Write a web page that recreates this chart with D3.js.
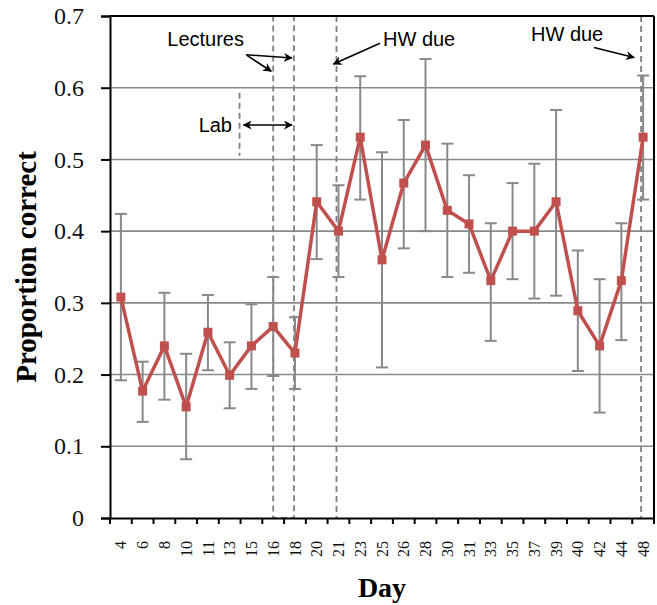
<!DOCTYPE html>
<html>
<head>
<meta charset="utf-8">
<script src="https://cdn.jsdelivr.net/npm/d3@7"></script>
<style>
  body { margin: 0; background: #fff; }
  svg { display: block; }
</style>
</head>
<body>
<script>
var W = 657, H = 605;
var margin = { top: 16, right: 3, bottom: 87, left: 110 };

// dati
var days = ['4', '6', '8', '10', '11', '13', '15', '16', '18', '20', '21', '23', '25',
  '26', '28', '30', '31', '33', '35', '37', '39', '40', '42', '44', '48'];
var means = [0.308, 0.177, 0.240, 0.155, 0.259, 0.199, 0.240, 0.267, 0.230, 0.441, 0.400, 0.531, 0.360,
  0.467, 0.520, 0.429, 0.410, 0.331, 0.400, 0.400, 0.441, 0.289, 0.240, 0.331, 0.531];
var upper = [0.424, 0.218, 0.314, 0.229, 0.311, 0.245, 0.298, 0.336, 0.280, 0.520, 0.464, 0.616, 0.510,
  0.555, 0.640, 0.522, 0.478, 0.411, 0.467, 0.494, 0.569, 0.373, 0.333, 0.411, 0.617];
var lower = [0.192, 0.134, 0.165, 0.082, 0.206, 0.153, 0.180, 0.198, 0.180, 0.361, 0.336, 0.444, 0.210,
  0.376, 0.400, 0.336, 0.342, 0.247, 0.333, 0.306, 0.310, 0.205, 0.147, 0.248, 0.444];
var yTicks = [0, 0.1, 0.2, 0.3, 0.4, 0.5, 0.6, 0.7];

var red = '#C0504D';
var grey = '#898989';

var x = d3.scaleBand().domain(days).range([margin.left, W - margin.right]);
var y = d3.scaleLinear().domain([0, 0.7]).range([H - margin.bottom, margin.top]);
var cx = function (d) { return x(d) + x.bandwidth() / 2; };

var svg = d3.select('body').append('svg')
  .attr('width', W)
  .attr('height', H);

var defs = svg.append('defs');
defs.append('marker')
  .attr('id', 'arrow')
  .attr('viewBox', '0 0 10 10')
  .attr('refX', 9).attr('refY', 5)
  .attr('markerWidth', 9).attr('markerHeight', 9)
  .attr('markerUnits', 'userSpaceOnUse')
  .attr('orient', 'auto-start-reverse')
  .append('path')
  .attr('d', 'M0,0 L10,5 L0,10 L3,5 Z')
  .attr('fill', '#000');

// griglia orizzontale
svg.append('g')
  .selectAll('line')
  .data(yTicks.filter(function (t) { return t > 0 && t < 0.7; }))
  .enter().append('line')
  .attr('x1', margin.left).attr('x2', W - margin.right)
  .attr('y1', function (d) { return y(d); }).attr('y2', function (d) { return y(d); })
  .style('stroke', grey).style('stroke-width', 1.6);

// linee tratteggiate delle annotazioni
var dash = svg.append('g')
  .style('stroke', '#7f7f7f').style('stroke-width', 1.8)
  .style('stroke-dasharray', '6,4').style('fill', 'none');

dash.append('rect')
  .attr('x', cx('16')).attr('y', y(0.7))
  .attr('width', cx('18') - cx('16') - 1)
  .attr('height', y(0) - y(0.7));
dash.append('line')
  .attr('x1', cx('21') - 2).attr('x2', cx('21') - 2)
  .attr('y1', y(0.7)).attr('y2', y(0));
dash.append('line')
  .attr('x1', cx('48') - 2).attr('x2', cx('48') - 2)
  .attr('y1', y(0.7)).attr('y2', y(0));
dash.append('line')
  .attr('x1', x('15') - 1).attr('x2', x('15') - 1)
  .attr('y1', y(0.593)).attr('y2', y(0.505));

// barre d'errore
var err = svg.append('g')
  .style('stroke', grey).style('stroke-width', 2);
days.forEach(function (d, i) {
  err.append('line')
    .attr('x1', cx(d)).attr('x2', cx(d))
    .attr('y1', y(upper[i])).attr('y2', y(lower[i]));
  [upper[i], lower[i]].forEach(function (v) {
    err.append('line')
      .attr('x1', cx(d) - 6).attr('x2', cx(d) + 6)
      .attr('y1', y(v)).attr('y2', y(v));
  });
});

// linea della media
var line = d3.line()
  .x(function (d, i) { return cx(days[i]); })
  .y(function (d) { return y(d); });

svg.append('path')
  .datum(means)
  .attr('d', line)
  .style('fill', 'none')
  .style('stroke', red)
  .style('stroke-width', 3.5)
  .style('stroke-linejoin', 'round');

svg.append('g')
  .selectAll('rect')
  .data(means)
  .enter().append('rect')
  .attr('x', function (d, i) { return cx(days[i]) - 4.5; })
  .attr('y', function (d) { return y(d) - 4.5; })
  .attr('width', 9).attr('height', 9)
  .style('fill', red);

// bordo del grafico
svg.append('line')
  .attr('x1', margin.left).attr('x2', W - margin.right)
  .attr('y1', y(0.7)).attr('y2', y(0.7))
  .style('stroke', '#000').style('stroke-width', 2);
svg.append('line')
  .attr('x1', W - margin.right).attr('x2', W - margin.right)
  .attr('y1', y(0.7)).attr('y2', y(0))
  .style('stroke', '#000').style('stroke-width', 2);

// asse y
var yAxis = svg.append('g')
  .attr('transform', 'translate(' + margin.left + ',0)')
  .call(d3.axisLeft(y).tickValues(yTicks).tickSize(9).tickPadding(17)
    .tickFormat(function (d) { return d === 0 ? '0' : d3.format('.1f')(d); }));
yAxis.select('.domain').style('stroke', '#000').style('stroke-width', 2);
yAxis.selectAll('.tick line').style('stroke', '#000').style('stroke-width', 2);
yAxis.selectAll('text')
  .style('font-family', '"Liberation Serif", serif')
  .style('font-size', '24px')
  .style('fill', '#111');

// asse x
var xAxis = svg.append('g')
  .attr('transform', 'translate(0,' + y(0) + ')')
  .call(d3.axisBottom(x).tickSize(0));
xAxis.select('.domain').style('stroke', '#000').style('stroke-width', 2);
xAxis.selectAll('text')
  .attr('transform', 'rotate(-90)')
  .attr('x', -23).attr('y', 0).attr('dy', '0.35em')
  .style('text-anchor', 'end')
  .style('font-family', '"Liberation Serif", serif')
  .style('font-size', '16px')
  .style('fill', '#111');

// tacche sui bordi delle categorie
svg.append('g')
  .selectAll('line')
  .data(days.concat(['end']))
  .enter().append('line')
  .attr('x1', function (d) { return d === 'end' ? W - margin.right : x(d); })
  .attr('x2', function (d) { return d === 'end' ? W - margin.right : x(d); })
  .attr('y1', y(0)).attr('y2', y(0) + 6)
  .style('stroke', '#000').style('stroke-width', 2);

// titoli degli assi
svg.append('text')
  .attr('x', (margin.left + W - margin.right) / 2)
  .attr('y', 597)
  .attr('text-anchor', 'middle')
  .style('font-family', '"Liberation Serif", serif')
  .style('font-weight', 'bold')
  .style('font-size', '28px')
  .text('Day');

svg.append('text')
  .attr('transform', 'translate(36,' + 267 + ') rotate(-90)')
  .attr('text-anchor', 'middle')
  .style('font-family', '"Liberation Serif", serif')
  .style('font-weight', 'bold')
  .style('font-size', '29px')
  .text('Proportion correct');

// annotazioni
var ann = svg.append('g')
  .style('font-family', '"Liberation Sans", Arial, sans-serif')
  .style('font-size', '20px')
  .style('fill', '#000');

ann.append('text').attr('x', 244).attr('y', y(0.668)).attr('dy', '0.35em')
  .attr('text-anchor', 'end').text('Lectures');
ann.append('text').attr('x', 232).attr('y', y(0.548)).attr('dy', '0.35em')
  .attr('text-anchor', 'end').text('Lab');
ann.append('text').attr('x', 383).attr('y', y(0.668)).attr('dy', '0.35em')
  .text('HW due');
ann.append('text').attr('x', 531).attr('y', y(0.675)).attr('dy', '0.35em')
  .text('HW due');

var arrows = [
  [246, 0.646, cx('18') - 3, 0.6415],
  [247, 0.645, cx('16') - 2, 0.623],
  [380, 0.662, cx('21') - 5, 0.633],
  [594, 0.656, cx('48') - 9, 0.642]
];
var arr = svg.append('g').style('stroke', '#000').style('stroke-width', 1.6);
arrows.forEach(function (a) {
  arr.append('line')
    .attr('x1', a[0]).attr('y1', y(a[1]))
    .attr('x2', a[2]).attr('y2', y(a[3]))
    .attr('marker-end', 'url(#arrow)');
});
// freccia doppia del laboratorio
arr.append('line')
  .attr('x1', x('15') + 3).attr('y1', y(0.548))
  .attr('x2', cx('18') - 3).attr('y2', y(0.548))
  .attr('marker-start', 'url(#arrow)')
  .attr('marker-end', 'url(#arrow)');
</script>
</body>
</html>
